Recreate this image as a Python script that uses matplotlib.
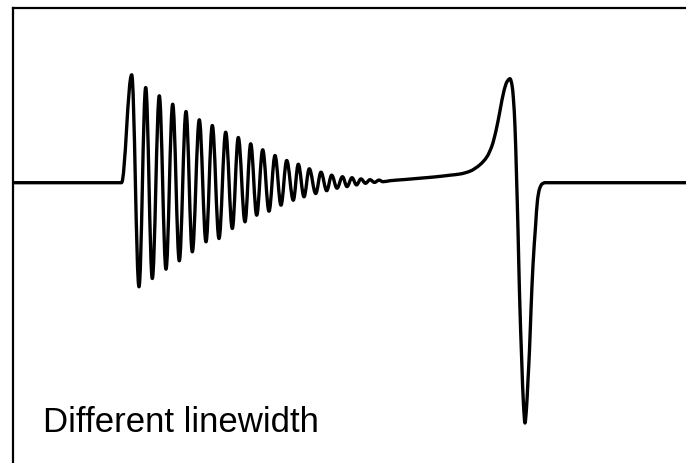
import matplotlib
matplotlib.use('Agg')
import matplotlib.pyplot as plt
from matplotlib.path import Path
from matplotlib.patches import PathPatch

# signal: time (x) and amplitude (y, positive up)
onset_t = 121.5

# extrema of the decaying oscillation
peak_t = [131.7, 145.7, 159.3, 172.7, 186.0, 199.3, 212.3, 225.7, 238.3, 250.7, 262.7,
          275.0, 286.7, 298.3, 309.3, 321.0, 331.7, 342.5, 352.0, 361.0, 370.0, 379.0]
peak_a = [107.9, 95.2, 86.9, 78.5, 71.2, 62.9, 57.2, 50.5, 45.2, 38.9, 32.9,
          27.2, 22.2, 18.5, 13.9, 10.5, 7.5, 6.0, 5.0, 3.8, 3.0, 2.6]
trough_t = [139.0, 152.3, 166.0, 179.3, 192.3, 206.0, 219.0, 232.3, 245.0, 256.7, 269.0,
            281.0, 293.3, 304.0, 315.7, 326.7, 337.0, 347.0, 356.5, 365.5, 374.5, 383.0]
trough_a = [-104.1, -95.8, -86.5, -78.1, -69.1, -59.1, -55.8, -45.8, -39.1, -32.5, -28.5,
            -22.5, -17.5, -14.1, -10.8, -8.0, -5.5, -3.9, -2.2, -0.6, 0.3, 1.0]

# slow drift and the final pulse
tail_t = [390, 405, 420, 435, 450, 460, 470, 480, 487, 492, 496, 500, 504, 507, 510,
          512, 513.5, 515, 516.5, 518, 519.5, 521.7, 523.5, 525, 526.5, 528, 529.5,
          531, 533, 535.5, 537.5, 539.5, 542, 545, 700]
tail_a = [2.0, 3.2, 4.5, 5.8, 7.5, 8.7, 11.5, 18.0, 26.0, 37.0, 52.0, 72.0, 92.0, 101.0, 104.0,
          97.7, 82.7, 55.7, 7.7, -47.3, -110.3, -177.3, -222.3, -240.3, -225.3, -197.3, -167.3,
          -127.3, -82.3, -44.3, -17.3, -6.3, -1.3, 0.0, 0.0]

label = "Different linewidth"


def hermite_slopes(t, a):
    # monotone (pchip style) slopes so the curve does not overshoot the points
    n = len(t)
    d = [(a[i + 1] - a[i]) / (t[i + 1] - t[i]) for i in range(n - 1)]
    s = [0.0] * n
    s[0] = d[0]
    s[-1] = d[-1]
    for i in range(1, n - 1):
        if d[i - 1] * d[i] <= 0:
            s[i] = 0.0
        else:
            h0 = t[i] - t[i - 1]
            h1 = t[i + 1] - t[i]
            w1 = 2 * h1 + h0
            w2 = h1 + 2 * h0
            s[i] = (w1 + w2) / (w1 / d[i - 1] + w2 / d[i])
    return s


fig = plt.figure(figsize=(6.86, 4.63), dpi=100)
ax = fig.add_axes([12.5 / 686, 0, 1 - 12.5 / 686, 1 - 7.5 / 463])
ax.set_xlim(12.5, 686)
ax.set_ylim(-280.3, 175.2)

# half-cosine-like bezier between extrema
k = 0.364
ext_t = [onset_t]
ext_a = [0.0]
for pt, pa, tt, ta in zip(peak_t, peak_a, trough_t, trough_a):
    ext_t += [pt, tt]
    ext_a += [pa, ta]

verts = [(0, 0), (onset_t, 0)]
codes = [Path.MOVETO, Path.LINETO]
for i in range(len(ext_t) - 1):
    t0, a0, t1, a1 = ext_t[i], ext_a[i], ext_t[i + 1], ext_a[i + 1]
    dt = t1 - t0
    verts += [(t0 + k * dt, a0), (t1 - k * dt, a1), (t1, a1)]
    codes += [Path.CURVE4] * 3

# smooth hermite curve through the tail points
ht = [ext_t[-1]] + tail_t
ha = [ext_a[-1]] + tail_a
hs = hermite_slopes(ht, ha)
hs[0] = 0.0
for i in range(len(ht) - 1):
    h = ht[i + 1] - ht[i]
    verts += [(ht[i] + h / 3, ha[i] + hs[i] * h / 3),
              (ht[i + 1] - h / 3, ha[i + 1] - hs[i + 1] * h / 3),
              (ht[i + 1], ha[i + 1])]
    codes += [Path.CURVE4] * 3

ax.add_patch(PathPatch(Path(verts, codes), fill=False, edgecolor='black', lw=2.4,
                       joinstyle='round', capstyle='butt'))

ax.set_xticks([])
ax.set_yticks([])
ax.spines['right'].set_visible(False)
ax.spines['bottom'].set_visible(False)
for s in ('left', 'top'):
    ax.spines[s].set_linewidth(1.6)

fig.text(43 / 686, 1 - 431.7 / 463, label, fontsize=25, family='Liberation Sans',
         va='baseline', ha='left')

fig.savefig('out.png', dpi=100)
